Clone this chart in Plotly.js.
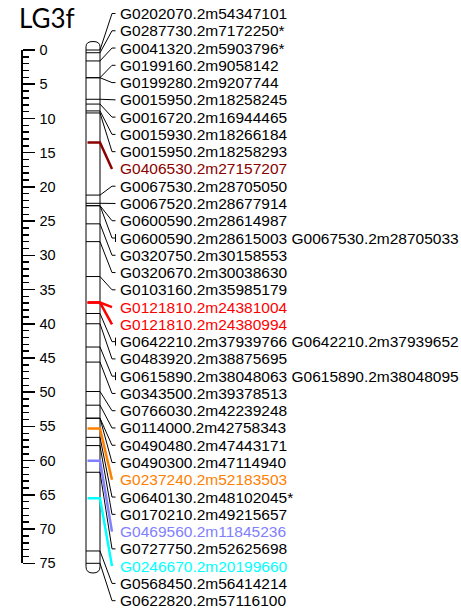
<!DOCTYPE html>
<html>
<head>
<meta charset="utf-8">
<script src="https://cdn.plot.ly/plotly-3.0.1.min.js"></script>
<style>html,body{margin:0;padding:0;background:#fff;}#chart{width:461px;height:613px;}</style>
</head>
<body>
<div id="chart"></div>
<script>
// ---- data ----
const chromosome = "LG3f";
const markerLabels = [
  "G0202070.2m54347101",
  "G0287730.2m7172250*",
  "G0041320.2m5903796*",
  "G0199160.2m9058142",
  "G0199280.2m9207744",
  "G0015950.2m18258245",
  "G0016720.2m16944465",
  "G0015930.2m18266184",
  "G0015950.2m18258293",
  "G0406530.2m27157207",
  "G0067530.2m28705050",
  "G0067520.2m28677914",
  "G0600590.2m28614987",
  "G0600590.2m28615003 G0067530.2m28705033",
  "G0320750.2m30158553",
  "G0320670.2m30038630",
  "G0103160.2m35985179",
  "G0121810.2m24381004",
  "G0121810.2m24380994",
  "G0642210.2m37939766 G0642210.2m37939652",
  "G0483920.2m38875695",
  "G0615890.2m38048063 G0615890.2m38048095",
  "G0343500.2m39378513",
  "G0766030.2m42239248",
  "G0114000.2m42758343",
  "G0490480.2m47443171",
  "G0490300.2m47114940",
  "G0237240.2m52183503",
  "G0640130.2m48102045*",
  "G0170210.2m49215657",
  "G0469560.2m11845236",
  "G0727750.2m52625698",
  "G0246670.2m20199660",
  "G0568450.2m56414214",
  "G0622820.2m57116100"
];
const positionsCM = [
  0.0, 0.4, 1.6, 4.05, 4.05, 7.2, 7.9, 8.9, 9.2, 13.5,
  21.2, 22.4, 22.75, 22.75, 25.4, 28.0, 33.1, 36.9, 36.9, 38.5,
  40.0, 43.4, 45.6, 49.9, 51.9, 53.8, 53.8, 55.3, 56.6, 57.8,
  60.0, 61.7, 65.5, 73.2, 75.0
];
const highlightColors = [
  null, null, null, null, null, null, null, null, null, "#8B0000",
  null, null, null, null, null, null, null, "#FF0000", "#FF0000", null,
  null, null, null, null, null, null, null, "#FF8000", null, null,
  "#8080FF", null, "#00FFFF", null, null
];
const rulerMax = 75;

// ---- layout constants (pixels) ----
const W = 461, H = 613;
const Y0PX = 50;          // pixel of 0 cM
const PXCM = 6.844;       // pixels per cM
const cm = px => (px - Y0PX) / PXCM;
const BAR_L = 86, BAR_R = 100;
const ELBOW_X = 112, STUB_X = 115.5, TEXT_X = 117.5;
const LABEL_TOP = 13.5, LABEL_STEP = 17.27;

const traces = [];
const annotations = [];
const shapes = [];

// chromosome bar with rounded ends
const topS = cm(46.7), topA = cm(41.5), botS = cm(566.7), botA = cm(573);
const mid = (BAR_L + BAR_R) / 2;
shapes.push({
  type: "path", xref: "x", yref: "y", layer: "below",
  path: `M ${BAR_L},${topS} L ${BAR_L},${botS} Q ${BAR_L},${botA} ${mid},${botA} Q ${BAR_R},${botA} ${BAR_R},${botS} L ${BAR_R},${topS} Q ${BAR_R},${topA} ${mid},${topA} Q ${BAR_L},${topA} ${BAR_L},${topS} Z`,
  line: {color: "#000", width: 1}, fillcolor: "#fff"
});

// black marker lines and connectors
const bx = [], by = [], cx = [], cy = [];
markerLabels.forEach((lab, i) => {
  const p = positionsCM[i];
  const ly = cm(LABEL_TOP + i * LABEL_STEP);
  const col = highlightColors[i];
  if (!col) {
    bx.push(BAR_L, BAR_R, null); by.push(p, p, null);
    cx.push(BAR_R, ELBOW_X, STUB_X, null); cy.push(p, ly, ly, null);
    if (lab.indexOf(" ") >= 0) {
      cx.push(STUB_X, STUB_X, null); cy.push(ly - 4 / PXCM, ly + 4 / PXCM, null);
    }
  }
  annotations.push({
    x: TEXT_X, y: ly, xref: "x", yref: "y", xanchor: "left", yanchor: "middle",
    text: lab, showarrow: false,
    font: {family: "Liberation Sans, Arial, sans-serif", size: 15.5, color: col || "#000"}
  });
});
traces.push({x: bx, y: by, mode: "lines", line: {color: "#000", width: 1}, hoverinfo: "skip", cliponaxis: false});
traces.push({x: cx, y: cy, mode: "lines", line: {color: "#000", width: 1}, hoverinfo: "skip", cliponaxis: false});

// highlighted markers
markerLabels.forEach((lab, i) => {
  const col = highlightColors[i];
  if (!col) return;
  const p = positionsCM[i];
  const ly = cm(LABEL_TOP + i * LABEL_STEP);
  traces.push({
    x: [BAR_L + 1.5, BAR_R, ELBOW_X], y: [p, p, ly], mode: "lines",
    line: {color: col, width: 2.5}, hoverinfo: "skip", cliponaxis: false
  });
});

// dummy trace for the ruler axis
traces.push({x: [0], y: [0], xaxis: "x", yaxis: "y2", mode: "markers", marker: {opacity: 0}, hoverinfo: "skip"});

annotations.push({
  x: 17, y: cm(18), xref: "x", yref: "y", xanchor: "left", yanchor: "middle",
  text: chromosome, showarrow: false,
  font: {family: "Lato, sans-serif", size: 26, color: "#000"}
});

const layout = {
  width: W, height: H,
  margin: {l: 0, r: 0, t: 0, b: 0, pad: 0},
  paper_bgcolor: "#fff", plot_bgcolor: "rgba(0,0,0,0)",
  showlegend: false,
  xaxis: {range: [0, W], visible: false, fixedrange: true, domain: [0, 1]},
  yaxis: {range: [cm(H), cm(0)], visible: false, fixedrange: true, domain: [0, 1]},
  yaxis2: {
    range: [rulerMax, 0], autorange: false,
    domain: [1 - (Y0PX + PXCM * rulerMax) / H, 1 - Y0PX / H],
    anchor: "free", position: 21 / W, side: "right",
    showline: true, linecolor: "#000", linewidth: 1.5,
    ticks: "outside", ticklen: 12, tickwidth: 1.5, tickcolor: "#000",
    tick0: 0, dtick: 5, showgrid: false, zeroline: false,
    ticklabelstandoff: 2,
    tickfont: {family: "Liberation Sans, Arial, sans-serif", size: 14.5, color: "#000"},
    minor: {dtick: 1, tick0: 0, ticks: "outside", ticklen: 6, tickwidth: 1.5, tickcolor: "#000", showgrid: false}
  },
  shapes: shapes,
  annotations: annotations
};

Plotly.newPlot("chart", traces, layout, {staticPlot: true, displayModeBar: false});
</script>
</body>
</html>
